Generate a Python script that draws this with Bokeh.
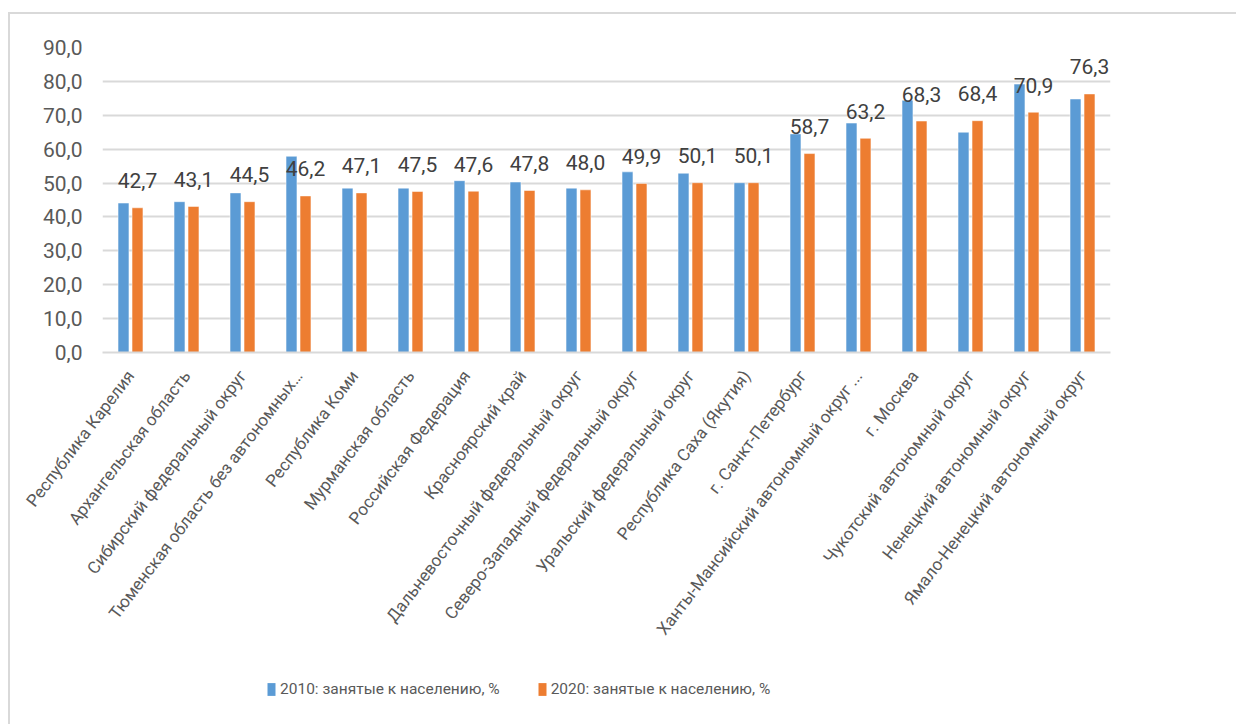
from bokeh.plotting import figure
from bokeh.layouts import column
from bokeh.models import (ColumnDataSource, FactorRange, Range1d, FixedTicker,
                          CustomJSTickFormatter, Legend, LegendItem)
from bokeh.transform import dodge
from bokeh.core.properties import value
from bokeh.embed import file_html
from bokeh.resources import INLINE

categories = [
    "Республика Карелия",
    "Архангельская область",
    "Сибирский федеральный округ",
    "Тюменская область без автономных…",
    "Республика Коми",
    "Мурманская область",
    "Российская Федерация",
    "Красноярский край",
    "Дальневосточный федеральный округ",
    "Северо-Западный федеральный округ",
    "Уральский федеральный округ",
    "Республика Саха (Якутия)",
    "г. Санкт-Петербург",
    "Ханты-Мансийский автономный округ ...",
    "г. Москва",
    "Чукотский автономный округ",
    "Ненецкий автономный округ",
    "Ямало-Ненецкий автономный округ",
]
values_2010 = [44.1, 44.5, 47.1, 57.9, 48.5, 48.5, 50.7, 50.3, 48.5,
               53.3, 52.9, 50.1, 64.5, 67.7, 74.4, 65.0, 79.2, 74.8]
values_2020 = [42.7, 43.1, 44.5, 46.2, 47.1, 47.5, 47.6, 47.8, 48.0,
               49.9, 50.1, 50.1, 58.7, 63.2, 68.3, 68.4, 70.9, 76.3]
y_ticks = [0, 10, 20, 30, 40, 50, 60, 70, 80, 90]
series_names = ["2010: занятые к населению, %", "2020: занятые к населению, %"]

labels_2020 = [f"{v:.1f}".replace(".", ",") for v in values_2020]

src = ColumnDataSource(dict(cat=categories, v2010=values_2010,
                            v2020=values_2020, lab=labels_2020))

FONT = "Roboto"
BLUE = "#5B9BD5"
ORANGE = "#ED7D31"
GRID = "#d9d9d9"

p = figure(x_range=FactorRange(*categories), y_range=Range1d(0, 90),
           width=1226, height=650, output_backend="svg",
           toolbar_location=None, tools="",
           min_border_left=92, min_border_right=126,
           min_border_top=33, min_border_bottom=312)
p.outline_line_color = None
p.background_fill_color = "white"
p.border_fill_color = "white"

r1 = p.vbar(x=dodge("cat", -0.125, range=p.x_range), top="v2010", width=0.195,
            source=src, fill_color=BLUE, line_color="white", line_width=0.5)
r2 = p.vbar(x=dodge("cat", 0.125, range=p.x_range), top="v2020", width=0.195,
            source=src, fill_color=ORANGE, line_color="white", line_width=0.5)

p.text(x=dodge("cat", 0.125, range=p.x_range), y="v2020", text="lab", source=src,
       text_align="center", text_baseline="middle", y_offset=-27,
       text_font=value(FONT), text_font_size="21px", text_color="#404040")

p.xgrid.grid_line_color = None
p.ygrid.grid_line_color = GRID
p.ygrid.grid_line_width = 2
p.yaxis.ticker = FixedTicker(ticks=y_ticks)
p.yaxis.formatter = CustomJSTickFormatter(code="return tick.toFixed(1).replace('.', ',');")
p.yaxis.axis_line_color = None
p.yaxis.major_tick_line_color = None
p.yaxis.minor_tick_line_color = None
p.yaxis.major_label_text_font = FONT
p.yaxis.major_label_text_font_size = "21px"
p.yaxis.major_label_text_color = "#595959"
p.yaxis.major_label_standoff = 14

p.xaxis.axis_line_color = GRID
p.xaxis.axis_line_width = 2
p.xaxis.major_tick_line_color = None
p.xaxis.minor_tick_line_color = None
p.xaxis.major_label_orientation = 0.92
p.xaxis.major_label_text_font = FONT
p.xaxis.major_label_text_font_size = "17px"
p.xaxis.major_label_text_color = "#595959"
p.xaxis.major_label_standoff = 14

# legend strip below the chart
pl = figure(x_range=Range1d(0, 1), y_range=Range1d(0, 1), width=1226, height=60,
            output_backend="svg", toolbar_location=None, tools="",
            min_border_left=0, min_border_right=0, min_border_top=0,
            min_border_bottom=0, x_axis_type=None, y_axis_type=None)
pl.outline_line_color = None
pl.grid.visible = False
lr1 = pl.vbar(x=[0.5], top=[0], bottom=[0], width=0.0, fill_color=BLUE, line_color=None)
lr2 = pl.vbar(x=[0.5], top=[0], bottom=[0], width=0.0, fill_color=ORANGE, line_color=None)
legend = Legend(items=[LegendItem(label=series_names[0], renderers=[lr1]),
                       LegendItem(label=series_names[1], renderers=[lr2])],
                orientation="horizontal", location=(164, 26),
                glyph_width=10, glyph_height=16, spacing=37,
                label_text_font=FONT, label_text_font_size="15.5px",
                label_text_color="#595959", label_standoff=4,
                border_line_color=None, background_fill_alpha=0,
                padding=0, margin=0)
pl.add_layout(legend, "center")

layout = column(p, pl, spacing=0,
                styles={"margin-left": "8px", "margin-top": "12px",
                        "border-left": "2px solid #d9d9d9",
                        "border-top": "2px solid #d9d9d9"})

open("out.html", "w").write(file_html(layout, INLINE))
